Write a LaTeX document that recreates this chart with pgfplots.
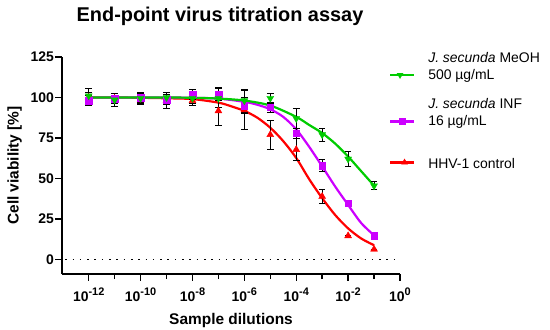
\documentclass[border=0pt]{standalone}
\usepackage{pgfplots}
\pgfplotsset{compat=1.18}
\usetikzlibrary{shapes.geometric}
\usepackage{fontspec}
\setmainfont{Liberation Sans}
\definecolor{cgreen}{HTML}{00CC00}
\definecolor{cpurple}{HTML}{CC00FF}
\definecolor{cred}{HTML}{FF0000}
\newcommand{\sx}[1]{10\raisebox{0.42em}{\fontsize{11}{11}\selectfont\bfseries #1}}
\begin{document}
\begin{tikzpicture}
\useasboundingbox (0,0) rectangle (550bp,330bp);
\node[font=\bfseries\fontsize{20}{22}\selectfont, anchor=base] at (220bp,308.5bp) {End-point virus titration assay};
\begin{axis}[
  scale only axis, width=338bp, height=217bp,
  at={(62bp,56bp)}, anchor=south west,
  xmode=log, log basis x=10,
  xmin=9.33e-14, xmax=1,
  ymin=-9.08, ymax=125,
  axis lines=left,
  axis line style={-, line width=1.8pt},
  tick align=outside,
  major tick length=6.5bp, minor tick length=5bp,
  every tick/.style={black, line width=1.4pt},
  xtick={1e-12,1e-10,1e-8,1e-6,1e-4,1e-2,1},
  xticklabels={\sx{-12},\sx{-10},\sx{-8},\sx{-6},\sx{-4},\sx{-2},\sx{0}},
  minor xtick={1e-11,1e-9,1e-7,1e-5,1e-3,1e-1},
  ytick={0,25,50,75,100,125},
  yticklabels={0,25,50,75,100,125},
  tick label style={font=\bfseries\fontsize{14}{16}\selectfont},
  xticklabel style={yshift=-4bp},
  yticklabel style={xshift=2bp},
  xlabel={Sample dilutions}, ylabel={Cell viability [\%]},
  label style={font=\bfseries\fontsize{15.5}{17}\selectfont},
  xlabel style={yshift=-5bp},
  ylabel style={yshift=2bp},
  clip=false,
  legend style={at={(1.0,1.0)}, anchor=north west, xshift=-14bp, yshift=9bp, draw=none, fill=none,
    font=\fontsize{14}{17}\selectfont, row sep=14bp, cells={align=left}},
  legend cell align=left,
]
\addlegendimage{legend image code/.code={\path[draw=none] (0bp,0bp) -- (36bp,0bp); \draw[cgreen, line width=2.2bp] (0bp,-8.5bp) -- (24bp,-8.5bp); \node[cgreen, draw, fill, regular polygon, regular polygon sides=3, rotate=180, inner sep=0pt, minimum size=7bp] at (12bp,-8.5bp) {};}}
\addlegendentry{\textit{J. secunda} MeOH\\500 µg/mL}
\addlegendimage{legend image code/.code={\path[draw=none] (0bp,0bp) -- (36bp,0bp); \draw[cpurple, line width=2.2bp] (0bp,-8.5bp) -- (24bp,-8.5bp); \fill[cpurple] (9bp,-11.5bp) rectangle (15bp,-5.5bp);}}
\addlegendentry{\textit{J. secunda} INF\\16 µg/mL}
\addlegendimage{legend image code/.code={\path[draw=none] (0bp,0bp) -- (36bp,0bp); \draw[cred, line width=2.2bp] (0bp,-5bp) -- (24bp,-5bp); \node[cred, draw, fill, regular polygon, regular polygon sides=3, inner sep=0pt, minimum size=7bp] at (12bp,-5bp) {};}}
\addlegendentry{\rule{0pt}{23bp}HHV-1 control}

\addplot[black, line width=1.6bp, dash pattern=on 1.6bp off 5.7bp, forget plot] coordinates {(1.25e-13,0) (0.85,0)};

% red
\addplot[cred, line width=2.2bp, smooth, forget plot] coordinates {
(1e-12,100)(1e-11,100)(1e-10,99.8)(1e-9,99.5)(1e-8,99)(1e-7,96.8)(3.162e-7,94.5)(1e-6,91.7)(3.162e-6,87.5)(1e-5,81.3)(3.162e-5,73)(1e-4,62.6)(3.162e-4,49.5)(1e-3,37.8)(3.162e-3,27.4)(1e-2,19.1)(3.162e-2,12.9)(1e-1,8.7)};
\addplot[cred, only marks, mark=triangle*, mark size=4bp, forget plot,
  error bars/.cd, y dir=both, y explicit,
  error bar style={black, line width=1pt},
  error mark options={rotate=90, black, mark size=3.3bp, line width=1pt}]
  table[x=x, y=y, y error=e] {
x y e
1e-12 100 3
1e-11 99.4 3
1e-10 98.5 3
1e-9 98 5
1e-8 98 3
1e-7 91.7 9
1e-6 92.3 12
1e-5 77 9
1e-4 67.8 7
1e-3 38.8 4.5
1e-2 14.5 0
1e-1 6.2 0
};

% purple
\addplot[cpurple, line width=2.2bp, smooth, forget plot] coordinates {
(1e-12,100)(1e-11,100)(1e-10,100)(1e-9,100)(1e-8,99.8)(1e-7,99.3)(1e-6,97.3)(3.162e-6,95.5)(1e-5,92.7)(3.162e-5,88)(1e-4,80.3)(3.162e-4,69.5)(1e-3,57.4)(3.162e-3,45)(1e-2,33.6)(3.162e-2,22.5)(1e-1,14.8)};
\addplot[cpurple, only marks, mark=square*, mark size=3.3bp, forget plot,
  error bars/.cd, y dir=both, y explicit,
  error bar style={black, line width=1pt},
  error mark options={rotate=90, black, mark size=3.3bp, line width=1pt}]
  table[x=x, y=y, y error=e] {
x y e
1e-12 98 3
1e-11 99.4 3
1e-10 100 3
1e-9 98.7 3
1e-8 102 3
1e-7 102 4
1e-6 95 5
1e-5 94 3
1e-4 77.8 3
1e-3 58 3.5
1e-2 34.6 2
1e-1 14.5 1.5
};

% green
\addplot[cgreen, line width=2.2bp, smooth, forget plot] coordinates {
(1e-12,100)(1e-11,100)(1e-10,100)(1e-9,100)(1e-8,99.8)(1e-7,99.3)(1e-6,98.1)(1e-5,95)(1e-4,88)(3.162e-4,83)(1e-3,78)(3.162e-3,71.5)(1e-2,63.5)(3.162e-2,54.5)(1e-1,45.5)};
\addplot[cgreen, only marks, mark=triangle*, mark size=4bp, mark options={rotate=180}, forget plot,
  error bars/.cd, y dir=both, y explicit,
  error bar style={black, line width=1pt},
  error mark options={rotate=90, black, mark size=3.3bp, line width=1pt}]
  table[x=x, y=y, y error=e] {
x y e
1e-12 101 4.5
1e-11 98.5 4
1e-10 99.5 3
1e-9 100 3
1e-8 99.5 3
1e-7 99.5 6
1e-6 98 7
1e-5 99.5 3
1e-4 87 6
1e-3 77 4
1e-2 62 4.5
1e-1 45.4 2.5
};
\end{axis}
\end{tikzpicture}
\end{document}
